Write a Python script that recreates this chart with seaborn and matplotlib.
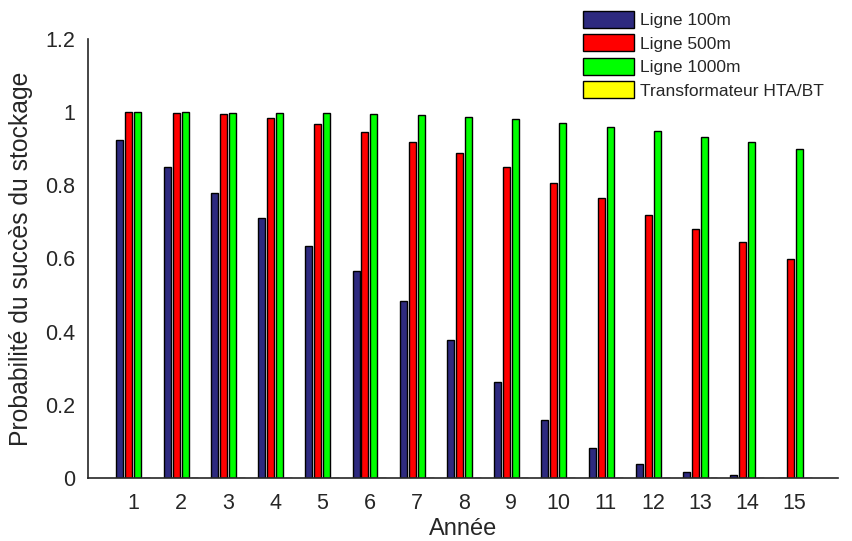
import matplotlib
matplotlib.use("Agg")
import matplotlib.pyplot as plt
import seaborn as sns
import pandas as pd
import numpy as np

years = [str(i) for i in range(1, 16)]
series_names = ["Ligne 100m", "Ligne 500m", "Ligne 1000m", "Transformateur HTA/BT"]
ligne_100m = [0.924, 0.850, 0.780, 0.712, 0.633, 0.566, 0.485, 0.378, 0.263, 0.159, 0.081, 0.037, 0.016, 0.007, 0.001]
ligne_500m = [1.000, 0.997, 0.994, 0.983, 0.967, 0.945, 0.918, 0.889, 0.849, 0.807, 0.766, 0.720, 0.681, 0.644, 0.600]
ligne_1000m = [1.000, 1.000, 0.999, 0.998, 0.998, 0.995, 0.991, 0.988, 0.980, 0.970, 0.960, 0.949, 0.933, 0.918, 0.899]
transfo = [0.0] * 15
colors = ["#2e2a7f", "#ff0000", "#00ff00", "#ffff00"]

rows = []
for name, vals in zip(series_names, [ligne_100m, ligne_500m, ligne_1000m, transfo]):
    for y, v in zip(years, vals):
        rows.append({"Année": y, "val": v, "serie": name})
df = pd.DataFrame(rows)

sns.set_style("white")
plt.rcParams['font.family'] = ['Liberation Sans', 'DejaVu Sans']

fig = plt.figure(figsize=(8.52, 5.41), dpi=100)
ax = fig.add_axes([88/852, 1-478/541, (838-88)/852, (478-39)/541])

sns.barplot(data=df, x="Année", y="val", hue="serie", hue_order=series_names,
            palette=colors, width=0.76, gap=0.22, edgecolor="black", linewidth=1.0,
            saturation=1, ax=ax, legend=True)

ax.set_ylim(0, 1.2)
ax.set_xlim(-0.96, 14.92)
ax.set_yticks([0, 0.2, 0.4, 0.6, 0.8, 1.0, 1.2])
ax.set_yticklabels(["0", "0.2", "0.4", "0.6", "0.8", "1", "1.2"])
ax.tick_params(axis="both", direction="in", length=7, width=1, labelsize=15.5, colors="#262626", pad=9)
ax.tick_params(axis="x", pad=11)
for s in ["top", "right"]:
    ax.spines[s].set_visible(False)
for s in ["left", "bottom"]:
    ax.spines[s].set_color("#262626")
    ax.spines[s].set_linewidth(1.2)
ax.set_xlabel("Année", fontsize=17, color="#262626", labelpad=3)
ax.set_ylabel("Probabilité du succès du stockage", fontsize=17.8, color="#262626", labelpad=9)

handles, labels = ax.get_legend_handles_labels()
ax.get_legend().remove()
fig.legend(handles, labels, loc="upper left", bbox_to_anchor=(583/852, 1-11/541),
           frameon=False, fontsize=12.5, handlelength=2.95, handleheight=1.1,
           labelspacing=0.36, handletextpad=0.35, borderpad=0, borderaxespad=0)

fig.savefig("out.png", dpi=100)
